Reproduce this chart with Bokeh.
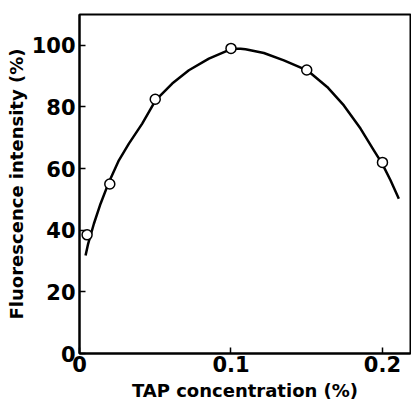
from bokeh.plotting import figure
from bokeh.models import Range1d, FixedTicker
from bokeh.embed import file_html
from bokeh.resources import INLINE

# Measured points (open circles)
tap_conc = [0.005, 0.02, 0.05, 0.10, 0.15, 0.20]
fluor = [38.5, 55.0, 82.5, 99.0, 92.0, 62.0]

# Fitted curve
curve_x = [0.004, 0.0057, 0.0095, 0.0139, 0.0194, 0.026, 0.0326, 0.0414,
           0.0502, 0.0612, 0.0722, 0.0854, 0.1008, 0.1063, 0.1096, 0.1217,
           0.1349, 0.1503, 0.1635, 0.1745, 0.1855, 0.1943, 0.1998, 0.2053,
           0.2108]
curve_y = [31.8, 35.6, 42.1, 48.6, 55.6, 62.7, 68.1, 74.6,
           82.1, 87.6, 91.9, 95.7, 98.9, 98.9, 98.7, 97.5,
           95.1, 91.9, 86.5, 80.5, 73.0, 65.9, 61.6, 56.2,
           50.2]

x_ticks = [0, 0.1, 0.2]
x_tick_labels = ["0", "0.1", "0.2"]
y_ticks = [0, 20, 40, 60, 80, 100]

FONT = "DejaVu Sans"

p = figure(width=411, height=401, output_backend="svg", toolbar_location=None,
           x_range=Range1d(0, 0.2185), y_range=Range1d(0, 110),
           min_border_left=79, min_border_right=1, min_border_top=14,
           min_border_bottom=48)
p.frame_width = 331
p.frame_height = 339

p.grid.visible = False
p.background_fill_color = "white"
p.border_fill_color = "white"
p.outline_line_color = "black"
p.outline_line_width = 2

for ax in (p.xaxis[0], p.yaxis[0]):
    ax.axis_line_width = 2
    ax.axis_line_color = "black"
    ax.major_tick_in = 6
    ax.major_tick_out = 0
    ax.major_tick_line_width = 1.5
    ax.minor_tick_line_color = None
    ax.major_label_text_font = FONT
    ax.major_label_text_font_style = "bold"
    ax.major_label_text_font_size = "21px"
    ax.major_label_text_color = "black"
    ax.axis_label_text_font = FONT
    ax.axis_label_text_font_style = "bold"
    ax.axis_label_text_font_size = "18px"
    ax.axis_label_text_color = "black"

p.xaxis.ticker = FixedTicker(ticks=x_ticks)
p.xaxis.major_label_overrides = dict(zip(x_ticks, x_tick_labels))
p.yaxis.ticker = FixedTicker(ticks=y_ticks)
p.xaxis.major_label_standoff = 2
p.yaxis.major_label_standoff = 4
p.xaxis.axis_label = "TAP concentration (%)"
p.yaxis.axis_label = "Fluorescence intensity (%)"
p.xaxis.axis_label_standoff = 5
p.yaxis.axis_label_standoff = 2

p.line(curve_x, curve_y, line_color="black", line_width=2.5, line_join="round")
p.scatter(tap_conc, fluor, size=10, marker="circle", fill_color="white",
          line_color="black", line_width=1.5)

open("out.html", "w").write(file_html(p, INLINE))
